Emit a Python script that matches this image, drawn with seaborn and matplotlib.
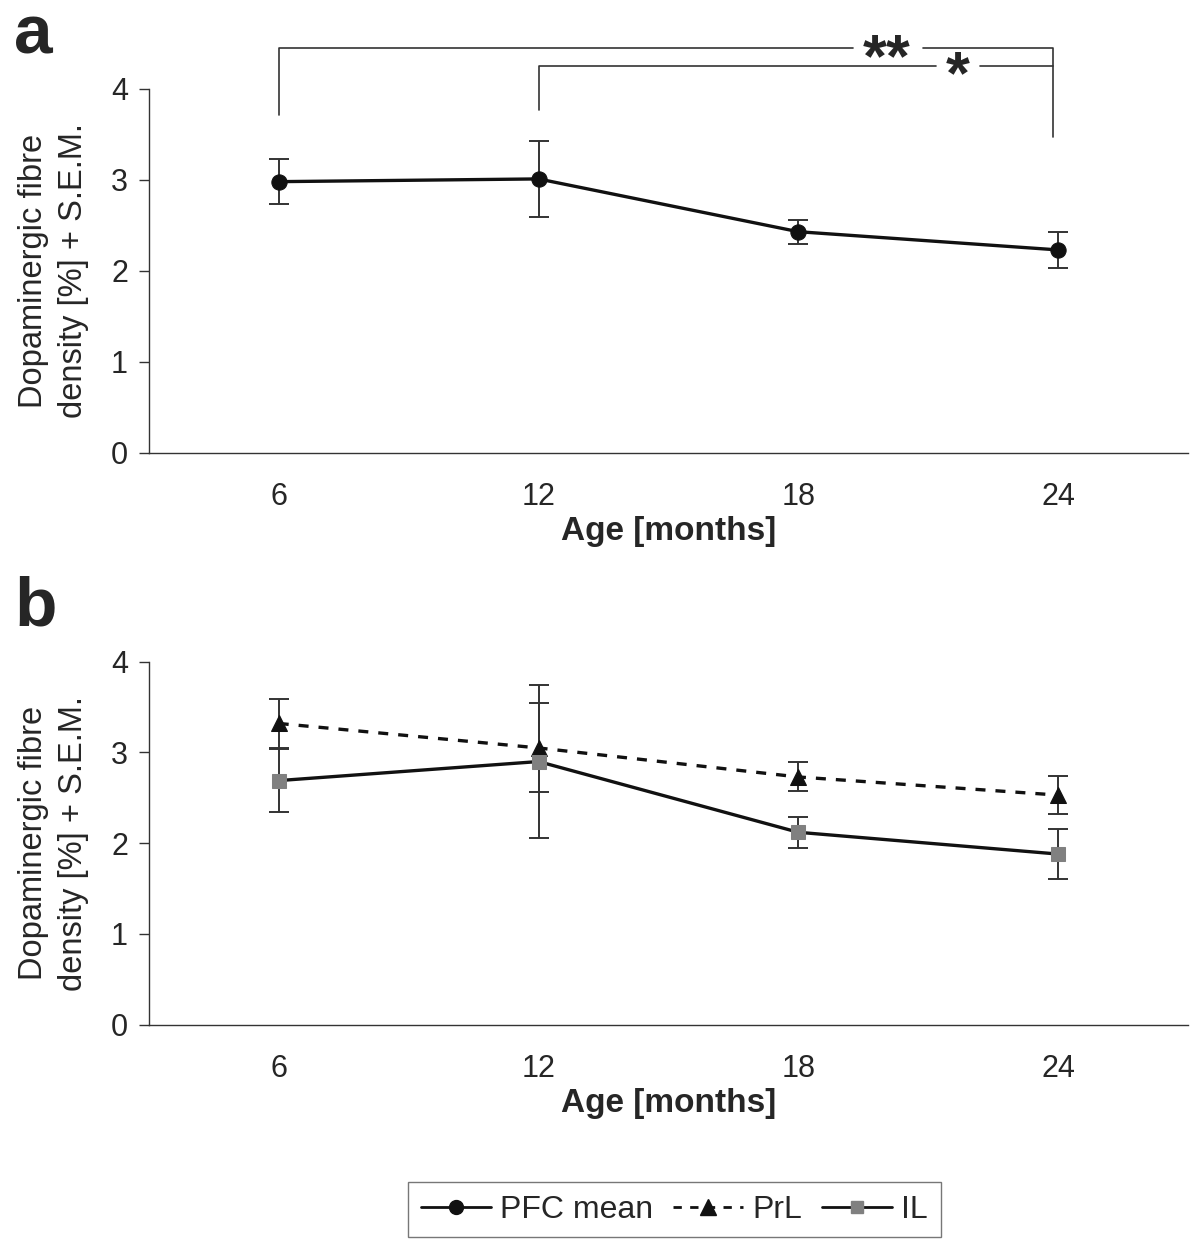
import numpy as np
import pandas as pd
import seaborn as sns
import matplotlib.pyplot as plt
from matplotlib.lines import Line2D

sns.set_style("white")
plt.rcParams['font.family'] = ['Liberation Sans', 'DejaVu Sans']

# Données
ages = ["6", "12", "18", "24"]
pfc_mean = [2.98, 3.01, 2.43, 2.23]
pfc_err = [0.25, 0.42, 0.13, 0.20]
prl_mean = [3.32, 3.05, 2.73, 2.53]
prl_err = [0.27, 0.49, 0.16, 0.21]
il_mean = [2.69, 2.90, 2.12, 1.88]
il_err = [0.35, 0.84, 0.17, 0.28]

fig = plt.figure(figsize=(12, 12.51), dpi=100)
ax1 = fig.add_axes([0.124, 0.638, 0.866, 0.291])
ax2 = fig.add_axes([0.124, 0.181, 0.866, 0.290])

ebkw = dict(fmt="none", ecolor="#333333", elinewidth=1.4, capsize=7, capthick=1.4, zorder=1)


def style_axis(ax):
    ax.set_xlim(-0.5, 3.5)
    ax.set_ylim(0, 4)
    ax.set_yticks([0, 1, 2, 3, 4])
    ax.set_xticks(range(4))
    ax.set_xticklabels(ages)
    ax.set_xticks(np.arange(-0.5, 4, 1), minor=True)
    ax.tick_params(axis="x", which="major", length=0, pad=21, labelsize=22)
    ax.tick_params(axis="x", which="minor", length=8, width=1, color="#333333", direction="out")
    ax.tick_params(axis="y", length=7, width=1, color="#333333", direction="out", labelsize=22, pad=8, left=True)
    for s in ["top", "right"]:
        ax.spines[s].set_visible(False)
    for s in ["left", "bottom"]:
        ax.spines[s].set_color("#333333")
        ax.spines[s].set_linewidth(1)
    ax.set_xlabel("Age [months]", fontsize=24, fontweight="bold", labelpad=3)
    ax.set_ylabel("Dopaminergic fibre\ndensity [%] + S.E.M.", fontsize=23.5, labelpad=16, linespacing=1.35)


# Panel a
df_a = pd.DataFrame({"age": ages, "value": pfc_mean})
ax1.errorbar(range(4), pfc_mean, yerr=pfc_err, **ebkw)
sns.lineplot(data=df_a, x="age", y="value", ax=ax1, color="#111111", lw=2.4,
             marker="o", markersize=11, markeredgecolor="#111111", sort=False, zorder=3)
style_axis(ax1)

# Crochets de significativité
bk = dict(color="#333333", lw=1.2, clip_on=False)
ax1.plot([0, 0, 2.21], [3.71, 4.45, 4.45], **bk)
ax1.plot([2.48, 2.98, 2.98], [4.45, 4.45, 3.47], **bk)
ax1.plot([1, 1, 2.53], [3.77, 4.25, 4.25], **bk)
ax1.plot([2.70, 2.98], [4.25, 4.25], **bk)
ax1.text(2.34, 4.14, "**", fontsize=44, fontweight="bold", ha="center", va="baseline", clip_on=False)
ax1.text(2.615, 3.95, "*", fontsize=44, fontweight="bold", ha="center", va="baseline", clip_on=False)

# Panel b
df_b = pd.DataFrame({
    "age": ages * 2,
    "value": prl_mean + il_mean,
    "region": ["PrL"] * 4 + ["IL"] * 4,
})
ax2.errorbar(range(4), prl_mean, yerr=prl_err, **ebkw)
ax2.errorbar(range(4), il_mean, yerr=il_err, **ebkw)
sns.lineplot(data=df_b[df_b.region == "PrL"], x="age", y="value", ax=ax2, color="#111111",
             lw=2.4, ls=(0, (3, 3)), marker="^", markersize=12, markeredgecolor="#111111",
             sort=False, zorder=3)
sns.lineplot(data=df_b[df_b.region == "IL"], x="age", y="value", ax=ax2, color="#111111",
             lw=2.4, marker="s", markersize=10, markerfacecolor="#808080",
             markeredgecolor="#808080", sort=False, zorder=3)
style_axis(ax2)

# Lettres des panneaux
fig.text(0.012, 0.997, "a", fontsize=50, fontweight="bold", va="top")
fig.text(0.012, 0.54, "b", fontsize=50, fontweight="bold", va="top")

# Légende
handles = [
    Line2D([], [], color="#111111", lw=2, marker="o", markersize=10),
    Line2D([], [], color="#111111", lw=2, ls=(0, (3, 3)), marker="^", markersize=11),
    Line2D([], [], color="#111111", lw=2, marker="s", markersize=9,
           markerfacecolor="#808080", markeredgecolor="#808080"),
]
fig.legend(handles, ["PFC mean", "PrL", "IL"], loc="center", bbox_to_anchor=(0.562, 0.033),
           ncol=3, fontsize=23, frameon=True, fancybox=False, edgecolor="#555555",
           handlelength=2.2, handletextpad=0.3, columnspacing=0.6, borderpad=0.4)

fig.savefig("out.png", dpi=100, facecolor="white")
